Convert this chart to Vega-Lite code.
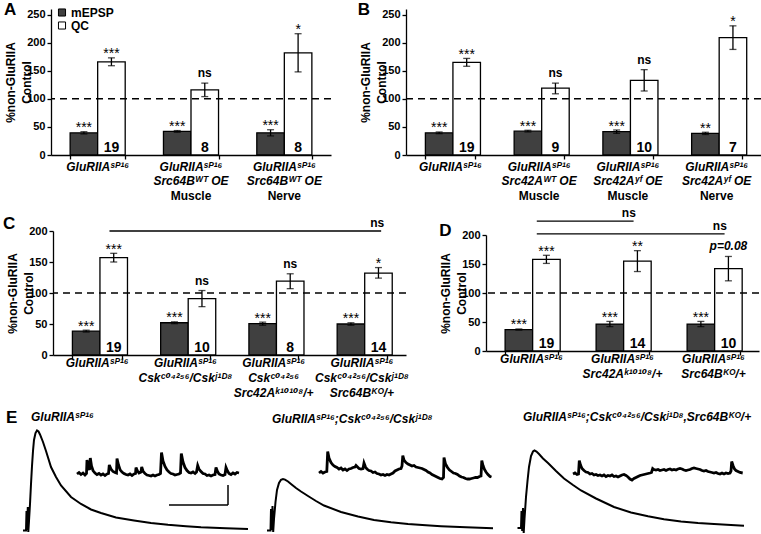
{
"$schema": "https://vega.github.io/schema/vega-lite/v6.json",
"padding": 0,
"spacing": -4,
"resolve": {"scale": {"fill": "independent"}, "legend": {"fill": "independent"}},
"datasets": {
"A": [{"g":"c1","m":"mEPSP","val":39.5,"lo":37.5,"hi":41.5,"sig":"***"},{"g":"c1","m":"QC","val":166,"lo":159,"hi":173,"sig":"***","n":19},{"g":"c2","m":"mEPSP","val":42,"lo":40.5,"hi":43.5,"sig":"***"},{"g":"c2","m":"QC","val":116,"lo":104,"hi":128,"sig":"ns","n":8},{"g":"c3","m":"mEPSP","val":39.5,"lo":34,"hi":45,"sig":"***"},{"g":"c3","m":"QC","val":182,"lo":148,"hi":216,"sig":"*","n":8}],
"B": [{"g":"c1","m":"mEPSP","val":39.5,"lo":38,"hi":41,"sig":"***"},{"g":"c1","m":"QC","val":165,"lo":158,"hi":172,"sig":"***","n":19},{"g":"c2","m":"mEPSP","val":42.5,"lo":41,"hi":44,"sig":"***"},{"g":"c2","m":"QC","val":119,"lo":109,"hi":128,"sig":"ns","n":9},{"g":"c3","m":"mEPSP","val":41.5,"lo":38.5,"hi":44.5,"sig":"***"},{"g":"c3","m":"QC","val":133,"lo":114,"hi":152,"sig":"ns","n":10},{"g":"c4","m":"mEPSP","val":38.5,"lo":36.5,"hi":40.5,"sig":"**"},{"g":"c4","m":"QC","val":209,"lo":188,"hi":230,"sig":"*","n":7}],
"C": [{"g":"c1","m":"mEPSP","val":38.5,"lo":37,"hi":40,"sig":"***"},{"g":"c1","m":"QC","val":157,"lo":150,"hi":164,"sig":"***","n":19},{"g":"c2","m":"mEPSP","val":52,"lo":50.5,"hi":53.5,"sig":"***"},{"g":"c2","m":"QC","val":91,"lo":78,"hi":104,"sig":"ns","n":10},{"g":"c3","m":"mEPSP","val":50.5,"lo":48,"hi":53,"sig":"***"},{"g":"c3","m":"QC","val":119,"lo":107,"hi":131,"sig":"ns","n":8},{"g":"c4","m":"mEPSP","val":50,"lo":48,"hi":52,"sig":"***"},{"g":"c4","m":"QC","val":132,"lo":124,"hi":141,"sig":"*","n":14}],
"D": [{"g":"c1","m":"mEPSP","val":37,"lo":36,"hi":38,"sig":"***"},{"g":"c1","m":"QC","val":158,"lo":151,"hi":165,"sig":"***","n":19},{"g":"c2","m":"mEPSP","val":46.5,"lo":42,"hi":51,"sig":"***"},{"g":"c2","m":"QC","val":155,"lo":137,"hi":173,"sig":"**","n":14},{"g":"c3","m":"mEPSP","val":46.5,"lo":42,"hi":51,"sig":"***"},{"g":"c3","m":"QC","val":142,"lo":121,"hi":163,"sig":"p=0.08","n":10}],
"labA": [{"g":"c1","l1":"GluRIIAˢᴾ¹⁶","l2":"","l3":""},{"g":"c2","l1":"GluRIIAˢᴾ¹⁶","l2":"Src64Bᵂᵀ OE","l3":"Muscle"},{"g":"c3","l1":"GluRIIAˢᴾ¹⁶","l2":"Src64Bᵂᵀ OE","l3":"Nerve"}],
"labB": [{"g":"c1","l1":"GluRIIAˢᴾ¹⁶","l2":"","l3":""},{"g":"c2","l1":"GluRIIAˢᴾ¹⁶","l2":"Src42Aᵂᵀ OE","l3":"Muscle"},{"g":"c3","l1":"GluRIIAˢᴾ¹⁶","l2":"Src42Aʸᶠ OE","l3":"Muscle"},{"g":"c4","l1":"GluRIIAˢᴾ¹⁶","l2":"Src42Aʸᶠ OE","l3":"Nerve"}],
"labC": [{"g":"c1","l1":"GluRIIAˢᴾ¹⁶","l2":"","l3":""},{"g":"c2","l1":"GluRIIAˢᴾ¹⁶","l2":"Cskᶜ⁰⁴²⁵⁶/Cskʲ¹ᴰ⁸","l3":""},{"g":"c3","l1":"GluRIIAˢᴾ¹⁶","l2":"Cskᶜ⁰⁴²⁵⁶","l3":"Src42Aᵏ¹⁰¹⁰⁸/+"},{"g":"c4","l1":"GluRIIAˢᴾ¹⁶","l2":"Cskᶜ⁰⁴²⁵⁶/Cskʲ¹ᴰ⁸","l3":"Src64Bᴷᴼ/+"}],
"labD": [{"g":"c1","l1":"GluRIIAˢᴾ¹⁶","l2":""},{"g":"c2","l1":"GluRIIAˢᴾ¹⁶","l2":"Src42Aᵏ¹⁰¹⁰⁸/+"},{"g":"c3","l1":"GluRIIAˢᴾ¹⁶","l2":"Src64Bᴷᴼ/+"}],
"tr": [
{"tr":"e1","t":22,"v":2.5},{"tr":"e1","t":25,"v":2.5},{"tr":"e1","t":25.5,"v":22},{"tr":"e1","t":26,"v":3},{"tr":"e1","t":26.8,"v":26},{"tr":"e1","t":27.3,"v":1},{"tr":"e1","t":28,"v":12},{"tr":"e1","t":29,"v":29},{"tr":"e1","t":30,"v":49},{"tr":"e1","t":31,"v":67},{"tr":"e1","t":32,"v":82},{"tr":"e1","t":33,"v":93},{"tr":"e1","t":34.5,"v":100},{"tr":"e1","t":36,"v":102.5},{"tr":"e1","t":37.5,"v":101.5},{"tr":"e1","t":39,"v":98.5},{"tr":"e1","t":42,"v":91},{"tr":"e1","t":45,"v":82},{"tr":"e1","t":50,"v":66},{"tr":"e1","t":55,"v":56},{"tr":"e1","t":60,"v":47.5},{"tr":"e1","t":70,"v":36},{"tr":"e1","t":80,"v":29},{"tr":"e1","t":90,"v":23.5},{"tr":"e1","t":100,"v":20},{"tr":"e1","t":115,"v":15.5},{"tr":"e1","t":133,"v":12.5},{"tr":"e1","t":150,"v":10},{"tr":"e1","t":167,"v":8.2},{"tr":"e1","t":185,"v":6.8},{"tr":"e1","t":200,"v":5.8},{"tr":"e1","t":225,"v":4.7},{"tr":"e1","t":247,"v":4},
{"tr":"e2","t":266,"v":2.5},{"tr":"e2","t":269.5,"v":2.5},{"tr":"e2","t":270,"v":24},{"tr":"e2","t":270.8,"v":3},{"tr":"e2","t":271.5,"v":27},{"tr":"e2","t":272.2,"v":1},{"tr":"e2","t":273,"v":14},{"tr":"e2","t":274.5,"v":31},{"tr":"e2","t":276,"v":43},{"tr":"e2","t":278,"v":50},{"tr":"e2","t":280,"v":53.2},{"tr":"e2","t":282,"v":54},{"tr":"e2","t":284,"v":53.4},{"tr":"e2","t":287,"v":51.5},{"tr":"e2","t":290,"v":49},{"tr":"e2","t":295,"v":45},{"tr":"e2","t":300,"v":41.5},{"tr":"e2","t":307,"v":37},{"tr":"e2","t":315,"v":32},{"tr":"e2","t":323,"v":27.5},{"tr":"e2","t":340,"v":21},{"tr":"e2","t":357,"v":16.5},{"tr":"e2","t":373,"v":13},{"tr":"e2","t":390,"v":10.7},{"tr":"e2","t":407,"v":9},{"tr":"e2","t":425,"v":7.7},{"tr":"e2","t":440,"v":6.8},{"tr":"e2","t":465,"v":5.7},{"tr":"e2","t":492,"v":4.7},
{"tr":"e3","t":516.5,"v":5},{"tr":"e3","t":520,"v":5},{"tr":"e3","t":520.5,"v":22},{"tr":"e3","t":521.2,"v":2},{"tr":"e3","t":522,"v":25},{"tr":"e3","t":522.7,"v":0},{"tr":"e3","t":523.5,"v":14},{"tr":"e3","t":525,"v":36},{"tr":"e3","t":526.5,"v":52},{"tr":"e3","t":528,"v":66},{"tr":"e3","t":530,"v":77},{"tr":"e3","t":532,"v":81.5},{"tr":"e3","t":533.5,"v":82.5},{"tr":"e3","t":535.5,"v":81.5},{"tr":"e3","t":538,"v":79},{"tr":"e3","t":542,"v":74.5},{"tr":"e3","t":547,"v":70},{"tr":"e3","t":555,"v":62},{"tr":"e3","t":563,"v":54.5},{"tr":"e3","t":572,"v":48},{"tr":"e3","t":580,"v":42.5},{"tr":"e3","t":595,"v":34.5},{"tr":"e3","t":613,"v":26},{"tr":"e3","t":630,"v":20.5},{"tr":"e3","t":647,"v":16.7},{"tr":"e3","t":663,"v":13.7},{"tr":"e3","t":680,"v":11.5},{"tr":"e3","t":697,"v":10},{"tr":"e3","t":713,"v":9},{"tr":"e3","t":730,"v":8},{"tr":"e3","t":743,"v":7.3},
{"tr":"m1","t":76,"v":59},{"tr":"m1","t":78,"v":60.5},{"tr":"m1","t":80,"v":58.5},{"tr":"m1","t":82,"v":60},{"tr":"m1","t":84,"v":58},{"tr":"m1","t":85.5,"v":59.5},{"tr":"m1","t":86,"v":73},{"tr":"m1","t":87.5,"v":66},{"tr":"m1","t":88.5,"v":63},{"tr":"m1","t":89.3,"v":75},{"tr":"m1","t":90.5,"v":67},{"tr":"m1","t":92,"v":62.5},{"tr":"m1","t":94,"v":60},{"tr":"m1","t":96,"v":58.5},{"tr":"m1","t":98,"v":59.5},{"tr":"m1","t":100,"v":58},{"tr":"m1","t":102,"v":59},{"tr":"m1","t":104,"v":57.5},{"tr":"m1","t":106,"v":59},{"tr":"m1","t":107.5,"v":59.5},{"tr":"m1","t":108.3,"v":68},{"tr":"m1","t":110,"v":64},{"tr":"m1","t":112,"v":61.5},{"tr":"m1","t":114,"v":60.5},{"tr":"m1","t":115.5,"v":60},{"tr":"m1","t":116,"v":74.5},{"tr":"m1","t":117.5,"v":68},{"tr":"m1","t":119,"v":63.5},{"tr":"m1","t":121,"v":61},{"tr":"m1","t":123,"v":59.5},{"tr":"m1","t":125,"v":58.5},{"tr":"m1","t":127,"v":58},{"tr":"m1","t":129,"v":59},{"tr":"m1","t":131,"v":57.5},{"tr":"m1","t":133,"v":59},{"tr":"m1","t":134.5,"v":59.5},{"tr":"m1","t":135,"v":65.5},{"tr":"m1","t":136.5,"v":62},{"tr":"m1","t":138,"v":60},{"tr":"m1","t":140,"v":61},{"tr":"m1","t":140.7,"v":66},{"tr":"m1","t":142,"v":62},{"tr":"m1","t":144,"v":59.5},{"tr":"m1","t":146,"v":58},{"tr":"m1","t":148,"v":57.5},{"tr":"m1","t":150,"v":57},{"tr":"m1","t":152,"v":58},{"tr":"m1","t":154,"v":57},{"tr":"m1","t":156,"v":58},{"tr":"m1","t":158,"v":58.5},{"tr":"m1","t":159.5,"v":59.5},{"tr":"m1","t":160.5,"v":80.5},{"tr":"m1","t":162,"v":72},{"tr":"m1","t":164,"v":66.5},{"tr":"m1","t":166,"v":63},{"tr":"m1","t":168,"v":61},{"tr":"m1","t":170,"v":59.5},{"tr":"m1","t":172,"v":59},{"tr":"m1","t":174,"v":58},{"tr":"m1","t":176,"v":58.5},{"tr":"m1","t":178,"v":59},{"tr":"m1","t":179.5,"v":60},{"tr":"m1","t":180.3,"v":79.5},{"tr":"m1","t":182,"v":71},{"tr":"m1","t":184,"v":65.5},{"tr":"m1","t":186,"v":62.5},{"tr":"m1","t":188,"v":60.5},{"tr":"m1","t":190,"v":60},{"tr":"m1","t":192,"v":61},{"tr":"m1","t":194,"v":59.5},{"tr":"m1","t":195.5,"v":61},{"tr":"m1","t":196.7,"v":67.5},{"tr":"m1","t":198,"v":64},{"tr":"m1","t":200,"v":61.5},{"tr":"m1","t":202,"v":59.5},{"tr":"m1","t":204,"v":59},{"tr":"m1","t":206,"v":57.5},{"tr":"m1","t":208,"v":58},{"tr":"m1","t":210,"v":57},{"tr":"m1","t":212,"v":58},{"tr":"m1","t":214,"v":58.5},{"tr":"m1","t":215,"v":65.5},{"tr":"m1","t":216.5,"v":61.5},{"tr":"m1","t":218,"v":59},{"tr":"m1","t":220,"v":58},{"tr":"m1","t":222,"v":57.5},{"tr":"m1","t":224,"v":58.5},{"tr":"m1","t":225,"v":65.5},{"tr":"m1","t":226.5,"v":62},{"tr":"m1","t":228,"v":59.5},{"tr":"m1","t":230,"v":58.5},{"tr":"m1","t":232,"v":60},{"tr":"m1","t":234,"v":59},{"tr":"m1","t":236,"v":60.5},{"tr":"m1","t":238,"v":60},
{"tr":"m2","t":318,"v":60},{"tr":"m2","t":320,"v":61.5},{"tr":"m2","t":322,"v":60},{"tr":"m2","t":324,"v":61},{"tr":"m2","t":325.8,"v":61.5},{"tr":"m2","t":326.7,"v":81.5},{"tr":"m2","t":328,"v":75},{"tr":"m2","t":330,"v":70.5},{"tr":"m2","t":332,"v":68},{"tr":"m2","t":334,"v":66.5},{"tr":"m2","t":336,"v":65.5},{"tr":"m2","t":338,"v":64},{"tr":"m2","t":340,"v":65},{"tr":"m2","t":342,"v":63},{"tr":"m2","t":344,"v":64},{"tr":"m2","t":346,"v":62.5},{"tr":"m2","t":348,"v":64},{"tr":"m2","t":350,"v":64.5},{"tr":"m2","t":352,"v":65.5},{"tr":"m2","t":354,"v":66},{"tr":"m2","t":355,"v":67.5},{"tr":"m2","t":356.5,"v":66},{"tr":"m2","t":358,"v":64.5},{"tr":"m2","t":360,"v":64},{"tr":"m2","t":362,"v":64.5},{"tr":"m2","t":363,"v":70},{"tr":"m2","t":364.5,"v":66},{"tr":"m2","t":366,"v":64},{"tr":"m2","t":368,"v":62.5},{"tr":"m2","t":370,"v":62},{"tr":"m2","t":372,"v":60.5},{"tr":"m2","t":374,"v":61},{"tr":"m2","t":376,"v":59.5},{"tr":"m2","t":378,"v":59},{"tr":"m2","t":380,"v":58},{"tr":"m2","t":382,"v":58.5},{"tr":"m2","t":384,"v":57.5},{"tr":"m2","t":386,"v":58.5},{"tr":"m2","t":388,"v":58},{"tr":"m2","t":390,"v":59},{"tr":"m2","t":392,"v":60},{"tr":"m2","t":394,"v":62},{"tr":"m2","t":396,"v":63},{"tr":"m2","t":398,"v":64},{"tr":"m2","t":400,"v":64.5},{"tr":"m2","t":401,"v":67},{"tr":"m2","t":401.8,"v":77.5},{"tr":"m2","t":403,"v":73},{"tr":"m2","t":405,"v":70.5},{"tr":"m2","t":407,"v":69},{"tr":"m2","t":409,"v":68},{"tr":"m2","t":411,"v":67},{"tr":"m2","t":413,"v":67.5},{"tr":"m2","t":415,"v":66},{"tr":"m2","t":417,"v":65.5},{"tr":"m2","t":419,"v":65},{"tr":"m2","t":421,"v":64.5},{"tr":"m2","t":423,"v":63.5},{"tr":"m2","t":425,"v":62.5},{"tr":"m2","t":427,"v":61},{"tr":"m2","t":429,"v":60},{"tr":"m2","t":431,"v":58.5},{"tr":"m2","t":433,"v":57.5},{"tr":"m2","t":435,"v":56.5},{"tr":"m2","t":437,"v":55.5},{"tr":"m2","t":439,"v":54.5},{"tr":"m2","t":441,"v":54},{"tr":"m2","t":442.5,"v":55.5},{"tr":"m2","t":443,"v":75.5},{"tr":"m2","t":444.5,"v":69},{"tr":"m2","t":446.5,"v":65.5},{"tr":"m2","t":448.5,"v":63},{"tr":"m2","t":450.5,"v":61.5},{"tr":"m2","t":452.5,"v":60},{"tr":"m2","t":454.5,"v":59.5},{"tr":"m2","t":456.5,"v":58.5},{"tr":"m2","t":458.5,"v":57},{"tr":"m2","t":460.5,"v":56},{"tr":"m2","t":462.5,"v":55.5},{"tr":"m2","t":464.5,"v":54.5},{"tr":"m2","t":466.5,"v":54},{"tr":"m2","t":468.5,"v":54},{"tr":"m2","t":470.5,"v":54.5},{"tr":"m2","t":472.5,"v":55},{"tr":"m2","t":474.5,"v":55.5},{"tr":"m2","t":476.5,"v":55.5},{"tr":"m2","t":478.5,"v":56.5},{"tr":"m2","t":480,"v":57},{"tr":"m2","t":480.8,"v":72.5},{"tr":"m2","t":482,"v":67.5},{"tr":"m2","t":483.5,"v":63.5},{"tr":"m2","t":485,"v":61},{"tr":"m2","t":487,"v":58.5},{"tr":"m2","t":489,"v":56.5},{"tr":"m2","t":490.5,"v":56},
{"tr":"m3","t":572,"v":59},{"tr":"m3","t":574,"v":60},{"tr":"m3","t":576,"v":58.5},{"tr":"m3","t":577.5,"v":59},{"tr":"m3","t":578.3,"v":72.5},{"tr":"m3","t":579.5,"v":68},{"tr":"m3","t":581,"v":64.5},{"tr":"m3","t":583,"v":62.5},{"tr":"m3","t":585,"v":61},{"tr":"m3","t":587,"v":60.5},{"tr":"m3","t":589,"v":59},{"tr":"m3","t":591,"v":59.5},{"tr":"m3","t":593,"v":58},{"tr":"m3","t":595,"v":58.5},{"tr":"m3","t":597,"v":57.5},{"tr":"m3","t":599,"v":58},{"tr":"m3","t":601,"v":57},{"tr":"m3","t":603,"v":58},{"tr":"m3","t":605,"v":56.5},{"tr":"m3","t":607,"v":57.5},{"tr":"m3","t":609,"v":57},{"tr":"m3","t":611,"v":58},{"tr":"m3","t":613,"v":56.5},{"tr":"m3","t":615,"v":57},{"tr":"m3","t":617,"v":56},{"tr":"m3","t":619,"v":57},{"tr":"m3","t":621,"v":58},{"tr":"m3","t":623,"v":58.5},{"tr":"m3","t":625,"v":57.5},{"tr":"m3","t":627,"v":56},{"tr":"m3","t":629,"v":54},{"tr":"m3","t":631,"v":53},{"tr":"m3","t":633,"v":54.5},{"tr":"m3","t":635,"v":55.5},{"tr":"m3","t":637,"v":56.5},{"tr":"m3","t":639,"v":57.5},{"tr":"m3","t":641,"v":58},{"tr":"m3","t":643,"v":58.5},{"tr":"m3","t":645,"v":59},{"tr":"m3","t":647,"v":59.5},{"tr":"m3","t":649,"v":60},{"tr":"m3","t":650.5,"v":60.5},{"tr":"m3","t":651.7,"v":64.5},{"tr":"m3","t":653,"v":63.5},{"tr":"m3","t":655,"v":63},{"tr":"m3","t":657,"v":63.5},{"tr":"m3","t":659,"v":62.5},{"tr":"m3","t":661,"v":63},{"tr":"m3","t":663,"v":63.5},{"tr":"m3","t":665,"v":62.5},{"tr":"m3","t":667,"v":63.5},{"tr":"m3","t":669,"v":64},{"tr":"m3","t":671,"v":63},{"tr":"m3","t":673,"v":63.5},{"tr":"m3","t":675,"v":63},{"tr":"m3","t":677,"v":64},{"tr":"m3","t":679,"v":64.5},{"tr":"m3","t":681,"v":64},{"tr":"m3","t":683,"v":63},{"tr":"m3","t":685,"v":62.5},{"tr":"m3","t":687,"v":63},{"tr":"m3","t":689,"v":63.5},{"tr":"m3","t":691,"v":64.5},{"tr":"m3","t":693,"v":65},{"tr":"m3","t":695,"v":64.5},{"tr":"m3","t":697,"v":64},{"tr":"m3","t":699,"v":63.5},{"tr":"m3","t":701,"v":62.5},{"tr":"m3","t":703,"v":62},{"tr":"m3","t":705,"v":62.5},{"tr":"m3","t":707,"v":61.5},{"tr":"m3","t":709,"v":61},{"tr":"m3","t":711,"v":60.5},{"tr":"m3","t":713,"v":60},{"tr":"m3","t":715,"v":60.5},{"tr":"m3","t":717,"v":59.5},{"tr":"m3","t":719,"v":59},{"tr":"m3","t":721,"v":60},{"tr":"m3","t":723,"v":59},{"tr":"m3","t":725,"v":60},{"tr":"m3","t":727,"v":59.5},{"tr":"m3","t":729,"v":60},{"tr":"m3","t":730,"v":62},{"tr":"m3","t":730.7,"v":71.5},{"tr":"m3","t":732,"v":67.5},{"tr":"m3","t":733.5,"v":64},{"tr":"m3","t":735,"v":62.5},{"tr":"m3","t":737,"v":61.5},{"tr":"m3","t":739,"v":60.5},{"tr":"m3","t":741.7,"v":60}
]
},
"vconcat": [
{"spacing": 4,
 "resolve": {"scale": {"fill": "independent"}, "legend": {"fill": "independent"}},
 "vconcat": [
 {"bounds": "flush", "spacing": 0,
  "resolve": {"scale": {"fill": "independent"}, "legend": {"fill": "independent"}},
  "hconcat": [
  {"width": 50, "height": 146, "data": {"values": [{"s": "A"}]}, "mark": {"type": "text", "fontSize": 17, "fontWeight": "bold", "align": "left", "baseline": "alphabetic", "dx": -22, "dy": -67.3}, "encoding": {"text": {"field": "s"}}},
  {"width": 280, "height": 146, "data": {"name": "A"},
   "layer": [
    {"mark": {"type": "bar", "stroke": "black", "strokeWidth": 1.3},
     "encoding": {
      "x": {"field": "g", "type": "nominal", "scale": {"domain": ["c1","c2","c3"], "paddingInner": 0.41, "paddingOuter": 0.205}, "axis": {"title": null}},
      "xOffset": {"field": "m", "type": "nominal", "scale": {"domain": ["mEPSP","QC"], "paddingInner": 0, "paddingOuter": 0}},
      "y": {"field": "val", "type": "quantitative", "scale": {"domain": [0,250]}, "axis": {"values": [0,50,100,150,200,250], "tickCount": 6, "labelOverlap": false, "title": ["%non-GluRIIA","Control"], "titleY": 73}},
      "fill": {"field": "m", "type": "nominal", "scale": {"domain": ["mEPSP","QC"], "range": ["#404040","#ffffff"]}, "legend": {"orient": "none", "legendX": 5, "legendY": -2.5, "title": null}}
     }},
    {"mark": {"type": "rule", "color": "black", "strokeWidth": 1.3}, "encoding": {"x": {"field": "g", "type": "nominal"}, "xOffset": {"field": "m", "type": "nominal"}, "y": {"field": "lo", "type": "quantitative"}, "y2": {"field": "hi"}}},
    {"mark": {"type": "tick", "orient": "horizontal", "size": 7, "thickness": 1.3, "color": "black"}, "encoding": {"x": {"field": "g", "type": "nominal"}, "xOffset": {"field": "m", "type": "nominal"}, "y": {"field": "lo", "type": "quantitative"}}},
    {"mark": {"type": "tick", "orient": "horizontal", "size": 7, "thickness": 1.3, "color": "black"}, "encoding": {"x": {"field": "g", "type": "nominal"}, "xOffset": {"field": "m", "type": "nominal"}, "y": {"field": "hi", "type": "quantitative"}}},
    {"transform": [{"filter": "indexof(datum.sig,'*')>=0"}], "mark": {"type": "text", "baseline": "bottom", "dy": 3.5, "fontSize": 14}, "encoding": {"x": {"field": "g", "type": "nominal"}, "xOffset": {"field": "m", "type": "nominal"}, "y": {"field": "hi", "type": "quantitative"}, "text": {"field": "sig"}}},
    {"transform": [{"filter": "datum.sig=='ns'"}], "mark": {"type": "text", "baseline": "bottom", "dy": -3, "fontSize": 12, "fontWeight": "bold"}, "encoding": {"x": {"field": "g", "type": "nominal"}, "xOffset": {"field": "m", "type": "nominal"}, "y": {"field": "hi", "type": "quantitative"}, "text": {"field": "sig"}}},
    {"transform": [{"filter": "datum.m=='QC'"}], "mark": {"type": "text", "baseline": "alphabetic", "dy": -3.5, "fontSize": 14, "fontWeight": "bold"}, "encoding": {"x": {"field": "g", "type": "nominal"}, "xOffset": {"field": "m", "type": "nominal"}, "y": {"datum": 0}, "text": {"field": "n"}}},
    {"data": {"values": [{}]}, "mark": {"type": "rule", "strokeDash": [7,5], "strokeWidth": 1.5, "color": "black"}, "encoding": {"y": {"datum": 100}}},
    {"data": {"name": "labA"}, "mark": {"type": "text", "fontStyle": "italic", "fontWeight": "bold", "fontSize": 12, "baseline": "alphabetic", "dy": 15.5}, "encoding": {"x": {"field": "g", "type": "nominal"}, "y": {"datum": 0}, "text": {"field": "l1"}}},
    {"data": {"name": "labA"}, "mark": {"type": "text", "fontStyle": "italic", "fontWeight": "bold", "fontSize": 12, "baseline": "alphabetic", "dy": 30}, "encoding": {"x": {"field": "g", "type": "nominal"}, "y": {"datum": 0}, "text": {"field": "l2"}}},
    {"data": {"name": "labA"}, "mark": {"type": "text", "fontWeight": "bold", "fontSize": 12, "baseline": "alphabetic", "dy": 44.5}, "encoding": {"x": {"field": "g", "type": "nominal"}, "y": {"datum": 0}, "text": {"field": "l3"}}}
   ]},
  {"width": 75, "height": 146, "data": {"values": [{"s": "B"}]}, "mark": {"type": "text", "fontSize": 17, "fontWeight": "bold", "align": "left", "baseline": "alphabetic", "dx": -10.8, "dy": -67.3}, "encoding": {"text": {"field": "s"}}},
  {"width": 355, "height": 146, "data": {"name": "B"},
   "layer": [
    {"mark": {"type": "bar", "stroke": "black", "strokeWidth": 1.3},
     "encoding": {
      "x": {"field": "g", "type": "nominal", "scale": {"domain": ["c1","c2","c3","c4"], "paddingInner": 0.437, "paddingOuter": 0.2185}, "axis": {"title": null}},
      "xOffset": {"field": "m", "type": "nominal", "scale": {"domain": ["mEPSP","QC"], "paddingInner": 0, "paddingOuter": 0}},
      "y": {"field": "val", "type": "quantitative", "scale": {"domain": [0,250]}, "axis": {"values": [0,50,100,150,200,250], "tickCount": 6, "labelOverlap": false, "title": ["%non-GluRIIA","Control"], "titleY": 73}},
      "fill": {"field": "m", "type": "nominal", "scale": {"domain": ["mEPSP","QC"], "range": ["#404040","#ffffff"]}, "legend": null}
     }},
    {"mark": {"type": "rule", "color": "black", "strokeWidth": 1.3}, "encoding": {"x": {"field": "g", "type": "nominal"}, "xOffset": {"field": "m", "type": "nominal"}, "y": {"field": "lo", "type": "quantitative"}, "y2": {"field": "hi"}}},
    {"mark": {"type": "tick", "orient": "horizontal", "size": 7, "thickness": 1.3, "color": "black"}, "encoding": {"x": {"field": "g", "type": "nominal"}, "xOffset": {"field": "m", "type": "nominal"}, "y": {"field": "lo", "type": "quantitative"}}},
    {"mark": {"type": "tick", "orient": "horizontal", "size": 7, "thickness": 1.3, "color": "black"}, "encoding": {"x": {"field": "g", "type": "nominal"}, "xOffset": {"field": "m", "type": "nominal"}, "y": {"field": "hi", "type": "quantitative"}}},
    {"transform": [{"filter": "indexof(datum.sig,'*')>=0"}], "mark": {"type": "text", "baseline": "bottom", "dy": 3.5, "fontSize": 14}, "encoding": {"x": {"field": "g", "type": "nominal"}, "xOffset": {"field": "m", "type": "nominal"}, "y": {"field": "hi", "type": "quantitative"}, "text": {"field": "sig"}}},
    {"transform": [{"filter": "datum.sig=='ns'"}], "mark": {"type": "text", "baseline": "bottom", "dy": -3, "fontSize": 12, "fontWeight": "bold"}, "encoding": {"x": {"field": "g", "type": "nominal"}, "xOffset": {"field": "m", "type": "nominal"}, "y": {"field": "hi", "type": "quantitative"}, "text": {"field": "sig"}}},
    {"transform": [{"filter": "datum.m=='QC'"}], "mark": {"type": "text", "baseline": "alphabetic", "dy": -3.5, "fontSize": 14, "fontWeight": "bold"}, "encoding": {"x": {"field": "g", "type": "nominal"}, "xOffset": {"field": "m", "type": "nominal"}, "y": {"datum": 0}, "text": {"field": "n"}}},
    {"data": {"values": [{}]}, "mark": {"type": "rule", "strokeDash": [7,5], "strokeWidth": 1.5, "color": "black"}, "encoding": {"y": {"datum": 100}}},
    {"data": {"name": "labB"}, "mark": {"type": "text", "fontStyle": "italic", "fontWeight": "bold", "fontSize": 12, "baseline": "alphabetic", "dy": 15.5}, "encoding": {"x": {"field": "g", "type": "nominal"}, "y": {"datum": 0}, "text": {"field": "l1"}}},
    {"data": {"name": "labB"}, "mark": {"type": "text", "fontStyle": "italic", "fontWeight": "bold", "fontSize": 12, "baseline": "alphabetic", "dy": 30}, "encoding": {"x": {"field": "g", "type": "nominal"}, "y": {"datum": 0}, "text": {"field": "l2"}}},
    {"data": {"name": "labB"}, "mark": {"type": "text", "fontWeight": "bold", "fontSize": 12, "baseline": "alphabetic", "dy": 44.5}, "encoding": {"x": {"field": "g", "type": "nominal"}, "y": {"datum": 0}, "text": {"field": "l3"}}}
   ]}
  ]},
 {"bounds": "flush", "spacing": 0, "center": true,
  "resolve": {"scale": {"fill": "independent"}, "legend": {"fill": "independent"}},
  "hconcat": [
  {"width": 52, "height": 124, "data": {"values": [{"s": "C"}]}, "mark": {"type": "text", "fontSize": 17, "fontWeight": "bold", "align": "left", "baseline": "alphabetic", "dx": -24, "dy": -64}, "encoding": {"text": {"field": "s"}}},
  {"width": 353, "height": 124, "data": {"name": "C"},
   "layer": [
    {"mark": {"type": "bar", "stroke": "black", "strokeWidth": 1.3},
     "encoding": {
      "x": {"field": "g", "type": "nominal", "scale": {"domain": ["c1","c2","c3","c4"], "paddingInner": 0.44, "paddingOuter": 0.22}, "axis": {"title": null}},
      "xOffset": {"field": "m", "type": "nominal", "scale": {"domain": ["mEPSP","QC"], "paddingInner": 0, "paddingOuter": 0}},
      "y": {"field": "val", "type": "quantitative", "scale": {"domain": [0,200]}, "axis": {"values": [0,50,100,150,200], "tickCount": 5, "labelOverlap": false, "title": ["%non-GluRIIA","Control"], "titleY": 62}},
      "fill": {"field": "m", "type": "nominal", "scale": {"domain": ["mEPSP","QC"], "range": ["#404040","#ffffff"]}, "legend": null}
     }},
    {"mark": {"type": "rule", "color": "black", "strokeWidth": 1.3}, "encoding": {"x": {"field": "g", "type": "nominal"}, "xOffset": {"field": "m", "type": "nominal"}, "y": {"field": "lo", "type": "quantitative"}, "y2": {"field": "hi"}}},
    {"mark": {"type": "tick", "orient": "horizontal", "size": 7, "thickness": 1.3, "color": "black"}, "encoding": {"x": {"field": "g", "type": "nominal"}, "xOffset": {"field": "m", "type": "nominal"}, "y": {"field": "lo", "type": "quantitative"}}},
    {"mark": {"type": "tick", "orient": "horizontal", "size": 7, "thickness": 1.3, "color": "black"}, "encoding": {"x": {"field": "g", "type": "nominal"}, "xOffset": {"field": "m", "type": "nominal"}, "y": {"field": "hi", "type": "quantitative"}}},
    {"transform": [{"filter": "indexof(datum.sig,'*')>=0"}], "mark": {"type": "text", "baseline": "bottom", "dy": 3.5, "fontSize": 14}, "encoding": {"x": {"field": "g", "type": "nominal"}, "xOffset": {"field": "m", "type": "nominal"}, "y": {"field": "hi", "type": "quantitative"}, "text": {"field": "sig"}}},
    {"transform": [{"filter": "datum.sig=='ns'"}], "mark": {"type": "text", "baseline": "bottom", "dy": -3, "fontSize": 12, "fontWeight": "bold"}, "encoding": {"x": {"field": "g", "type": "nominal"}, "xOffset": {"field": "m", "type": "nominal"}, "y": {"field": "hi", "type": "quantitative"}, "text": {"field": "sig"}}},
    {"transform": [{"filter": "datum.m=='QC'"}], "mark": {"type": "text", "baseline": "alphabetic", "dy": -3.5, "fontSize": 14, "fontWeight": "bold"}, "encoding": {"x": {"field": "g", "type": "nominal"}, "xOffset": {"field": "m", "type": "nominal"}, "y": {"datum": 0}, "text": {"field": "n"}}},
    {"data": {"values": [{}]}, "mark": {"type": "rule", "strokeDash": [7,5], "strokeWidth": 1.5, "color": "black"}, "encoding": {"y": {"datum": 100}}},
    {"data": {"values": [{"from": "c1", "to": "c4"}]}, "mark": {"type": "rule", "color": "black", "strokeWidth": 1.3}, "encoding": {"x": {"field": "from", "type": "nominal", "bandPosition": 0.75}, "x2": {"field": "to", "bandPosition": 0.89}, "y": {"datum": 200}}},
    {"data": {"values": [{"g": "c4", "s": "ns"}]}, "mark": {"type": "text", "baseline": "alphabetic", "dy": -4, "fontSize": 12, "fontWeight": "bold"}, "encoding": {"x": {"field": "g", "type": "nominal", "bandPosition": 0.81}, "y": {"datum": 200}, "text": {"field": "s"}}},
    {"data": {"name": "labC"}, "mark": {"type": "text", "fontStyle": "italic", "fontWeight": "bold", "fontSize": 12, "baseline": "alphabetic", "dy": 11.5}, "encoding": {"x": {"field": "g", "type": "nominal"}, "y": {"datum": 0}, "text": {"field": "l1"}}},
    {"data": {"name": "labC"}, "mark": {"type": "text", "fontStyle": "italic", "fontWeight": "bold", "fontSize": 12, "baseline": "alphabetic", "dy": 26.5}, "encoding": {"x": {"field": "g", "type": "nominal"}, "y": {"datum": 0}, "text": {"field": "l2"}}},
    {"data": {"name": "labC"}, "mark": {"type": "text", "fontStyle": "italic", "fontWeight": "bold", "fontSize": 12, "baseline": "alphabetic", "dy": 41.5}, "encoding": {"x": {"field": "g", "type": "nominal"}, "y": {"datum": 0}, "text": {"field": "l3"}}}
   ]},
  {"width": 80, "height": 124, "data": {"values": [{"s": "D"}]}, "mark": {"type": "text", "fontSize": 17, "fontWeight": "bold", "align": "left", "baseline": "alphabetic", "dx": -6.7, "dy": -56.6}, "encoding": {"text": {"field": "s"}}},
  {"width": 273, "height": 116, "data": {"name": "D"},
   "layer": [
    {"mark": {"type": "bar", "stroke": "black", "strokeWidth": 1.3},
     "encoding": {
      "x": {"field": "g", "type": "nominal", "scale": {"domain": ["c1","c2","c3"], "paddingInner": 0.42, "paddingOuter": 0.21}, "axis": {"title": null}},
      "xOffset": {"field": "m", "type": "nominal", "scale": {"domain": ["mEPSP","QC"], "paddingInner": 0, "paddingOuter": 0}},
      "y": {"field": "val", "type": "quantitative", "scale": {"domain": [0,200]}, "axis": {"values": [0,50,100,150,200], "tickCount": 5, "labelOverlap": false, "title": ["%non-GluRIIA","Control"], "titleY": 58}},
      "fill": {"field": "m", "type": "nominal", "scale": {"domain": ["mEPSP","QC"], "range": ["#404040","#ffffff"]}, "legend": null}
     }},
    {"mark": {"type": "rule", "color": "black", "strokeWidth": 1.3}, "encoding": {"x": {"field": "g", "type": "nominal"}, "xOffset": {"field": "m", "type": "nominal"}, "y": {"field": "lo", "type": "quantitative"}, "y2": {"field": "hi"}}},
    {"mark": {"type": "tick", "orient": "horizontal", "size": 7, "thickness": 1.3, "color": "black"}, "encoding": {"x": {"field": "g", "type": "nominal"}, "xOffset": {"field": "m", "type": "nominal"}, "y": {"field": "lo", "type": "quantitative"}}},
    {"mark": {"type": "tick", "orient": "horizontal", "size": 7, "thickness": 1.3, "color": "black"}, "encoding": {"x": {"field": "g", "type": "nominal"}, "xOffset": {"field": "m", "type": "nominal"}, "y": {"field": "hi", "type": "quantitative"}}},
    {"transform": [{"filter": "indexof(datum.sig,'*')>=0"}], "mark": {"type": "text", "baseline": "bottom", "dy": 3.5, "fontSize": 14}, "encoding": {"x": {"field": "g", "type": "nominal"}, "xOffset": {"field": "m", "type": "nominal"}, "y": {"field": "hi", "type": "quantitative"}, "text": {"field": "sig"}}},
    {"transform": [{"filter": "datum.sig=='p=0.08'"}], "mark": {"type": "text", "baseline": "bottom", "dy": -3.5, "fontSize": 12, "fontWeight": "bold", "fontStyle": "italic"}, "encoding": {"x": {"field": "g", "type": "nominal"}, "xOffset": {"field": "m", "type": "nominal"}, "y": {"field": "hi", "type": "quantitative"}, "text": {"field": "sig"}}},
    {"transform": [{"filter": "datum.m=='QC'"}], "mark": {"type": "text", "baseline": "alphabetic", "dy": -3.5, "fontSize": 14, "fontWeight": "bold"}, "encoding": {"x": {"field": "g", "type": "nominal"}, "xOffset": {"field": "m", "type": "nominal"}, "y": {"datum": 0}, "text": {"field": "n"}}},
    {"data": {"values": [{}]}, "mark": {"type": "rule", "strokeDash": [7,5], "strokeWidth": 1.5, "color": "black"}, "encoding": {"y": {"datum": 100}}},
    {"data": {"values": [{"from": "c1", "to": "c2", "lvl": 224, "s": "ns"}, {"from": "c1", "to": "c3", "lvl": 202, "s": "ns"}]}, "mark": {"type": "rule", "color": "black", "strokeWidth": 1.3}, "encoding": {"x": {"field": "from", "type": "nominal", "bandPosition": 0.6}, "x2": {"field": "to", "bandPosition": 0.71}, "y": {"field": "lvl", "type": "quantitative"}}},
    {"data": {"values": [{"from": "c1", "to": "c2", "lvl": 224, "s": "ns"}, {"from": "c1", "to": "c3", "lvl": 202, "s": "ns"}]}, "mark": {"type": "text", "baseline": "alphabetic", "dy": -4, "fontSize": 12, "fontWeight": "bold"}, "encoding": {"x": {"field": "to", "type": "nominal", "bandPosition": 0.62}, "y": {"field": "lvl", "type": "quantitative"}, "text": {"field": "s"}}},
    {"data": {"name": "labD"}, "mark": {"type": "text", "fontStyle": "italic", "fontWeight": "bold", "fontSize": 12, "baseline": "alphabetic", "dy": 11.5}, "encoding": {"x": {"field": "g", "type": "nominal"}, "y": {"datum": 0}, "text": {"field": "l1"}}},
    {"data": {"name": "labD"}, "mark": {"type": "text", "fontStyle": "italic", "fontWeight": "bold", "fontSize": 12, "baseline": "alphabetic", "dy": 26.5}, "encoding": {"x": {"field": "g", "type": "nominal"}, "y": {"datum": 0}, "text": {"field": "l2"}}}
   ]}
  ]}
 ]},
{"width": 761, "height": 134,
 "layer": [
  {"data": {"name": "tr"}, "transform": [{"filter": "datum.tr[0]=='e'"}], "mark": {"type": "line", "color": "black", "strokeWidth": 2}, "encoding": {"x": {"field": "t", "type": "quantitative", "scale": {"domain": [0,761], "nice": false, "zero": false}, "axis": null}, "y": {"field": "v", "type": "quantitative", "scale": {"domain": [0,134], "nice": false, "zero": false}, "axis": null}, "detail": {"field": "tr"}}},
  {"data": {"name": "tr"}, "transform": [{"filter": "datum.tr[0]=='m'"}], "mark": {"type": "line", "color": "black", "strokeWidth": 2.8}, "encoding": {"x": {"field": "t", "type": "quantitative"}, "y": {"field": "v", "type": "quantitative"}, "detail": {"field": "tr"}}},
  {"data": {"values": [{"t": 168, "t2": 227, "v": 28, "v2": 28}, {"t": 227, "t2": 227, "v": 28, "v2": 48}]}, "mark": {"type": "rule", "color": "black", "strokeWidth": 1.5}, "encoding": {"x": {"field": "t", "type": "quantitative"}, "x2": {"field": "t2"}, "y": {"field": "v", "type": "quantitative"}, "y2": {"field": "v2"}}},
  {"data": {"values": [{"t": 30, "v": 112, "s": "GluRIIAˢᴾ¹⁶"}, {"t": 271, "v": 110, "s": "GluRIIAˢᴾ¹⁶;Cskᶜ⁰⁴²⁵⁶/Cskʲ¹ᴰ⁸"}, {"t": 522, "v": 112, "s": "GluRIIAˢᴾ¹⁶;Cskᶜ⁰⁴²⁵⁶/Cskʲ¹ᴰ⁸,Src64Bᴷᴼ/+"}]}, "mark": {"type": "text", "align": "left", "baseline": "alphabetic", "fontSize": 12, "fontWeight": "bold", "fontStyle": "italic"}, "encoding": {"x": {"field": "t", "type": "quantitative"}, "y": {"field": "v", "type": "quantitative"}, "text": {"field": "s"}}},
  {"data": {"values": [{"t": 5, "v": 110, "s": "E"}]}, "mark": {"type": "text", "align": "left", "baseline": "alphabetic", "fontSize": 17, "fontWeight": "bold"}, "encoding": {"x": {"field": "t", "type": "quantitative"}, "y": {"field": "v", "type": "quantitative"}, "text": {"field": "s"}}}
 ]}
],
"config": {
 "view": {"stroke": "transparent"},
 "font": "Liberation Sans, DejaVu Sans, sans-serif",
 "text": {"color": "black"},
 "axis": {"grid": false, "domainColor": "black", "domainWidth": 1.3, "tickColor": "black", "tickWidth": 1.3, "tickSize": 4, "labelColor": "black", "labelFontSize": 11, "labelFontWeight": "bold", "labelPadding": 2, "labelOverlap": false, "titleColor": "black", "titleFontSize": 12, "titleFontWeight": "bold"},
 "axisX": {"labels": false, "tickBand": "extent"},
 "axisY": {"titleAngle": -90, "titleAlign": "center", "titleBaseline": "alphabetic", "titleLineHeight": 16, "titleX": -37},
 "legend": {"symbolType": "square", "symbolSize": 50, "symbolStrokeColor": "black", "symbolStrokeWidth": 1, "labelFontSize": 12, "labelFontWeight": "bold", "labelColor": "black", "rowPadding": 1, "labelOffset": 3, "padding": 0}
}
}
